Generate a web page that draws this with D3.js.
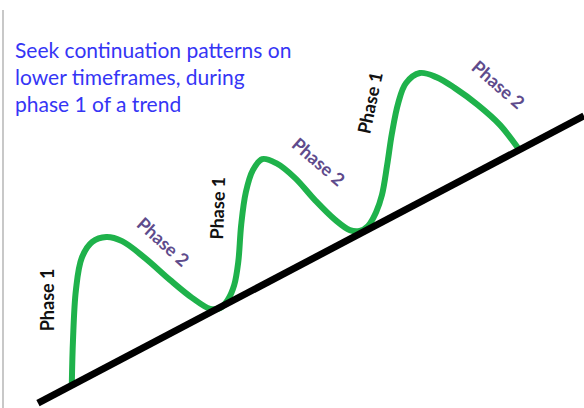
<!DOCTYPE html>
<html>
<head>
<meta charset="utf-8">
<script src="https://cdn.jsdelivr.net/npm/d3@7"></script>
<style>
  body { margin: 0; background: #fff; }
  svg { display: block; }
</style>
</head>
<body>
<div id="chart"></div>
<script>
// price path (time %, price %)
var pathTime  = [12.3, 12.5, 13.0, 14.0, 15.8, 18.2, 20.9, 24.8, 29.1, 32.9, 36.0,
                 37.7, 39.0, 40.1, 40.8, 41.3, 42.1, 43.3, 44.9, 47.3, 50.5, 53.9, 57.4, 59.9,
                 61.6, 63.0, 64.4, 65.4, 66.3, 67.1, 68.2, 69.5, 71.9, 74.7, 77.9, 81.8, 85.6, 88.7];
var pathPrice = [6.1, 16.7, 28.9, 36.8, 40.7, 41.9, 40.9, 36.8, 31.4, 27.0, 24.3,
                 24.5, 26.5, 30.1, 35.8, 44.9, 52.9, 58.3, 61.0, 60.0, 56.4, 51.0, 46.1, 43.6,
                 43.4, 44.6, 48.0, 52.2, 59.6, 67.2, 74.8, 79.6, 82.1, 81.1, 78.4, 74.3, 69.4, 63.7];

// trend line
var trendTime  = [6.5, 100];
var trendPrice = [1.2, 71.6];

var title = ["Seek continuation patterns on", "lower timeframes, during", "phase 1 of a trend"];

var phaseText  = ["Phase 1", "Phase 2", "Phase 1", "Phase 2", "Phase 1", "Phase 2"];
var phaseTime  = [8.2, 27.9, 37.3, 54.5, 63.4, 85.3];
var phasePrice = [26.5, 40.7, 49.0, 60.3, 74.8, 79.2];
var phaseAngle = [-90, 42, -88, 41, -78, 41];

var W = 584, H = 408;

var svg = d3.select("#chart").append("svg")
  .attr("width", W)
  .attr("height", H);

var x = d3.scaleLinear().domain([0, 100]).range([0, W]),
    y = d3.scaleLinear().domain([0, 100]).range([H, 0]);

// thin grey border at the left
svg.append("line")
  .attr("x1", 3).attr("x2", 3)
  .attr("y1", 10).attr("y2", H)
  .attr("stroke", "#c8c8c8")
  .attr("stroke-width", 2);

var line = d3.line()
  .curve(d3.curveCatmullRom.alpha(0.5))
  .x(function(d) { return x(d[0]); })
  .y(function(d) { return y(d[1]); });

svg.append("path")
  .datum(d3.zip(pathTime, pathPrice))
  .attr("d", line)
  .attr("fill", "none")
  .attr("stroke", "#1fb24b")
  .attr("stroke-width", 6)
  .attr("stroke-linecap", "round");

svg.append("path")
  .datum(d3.zip(trendTime, trendPrice))
  .attr("d", d3.line().x(function(d) { return x(d[0]); }).y(function(d) { return y(d[1]); }))
  .attr("stroke", "#000")
  .attr("stroke-width", 7);

svg.append("text")
  .attr("x", 15)
  .attr("y", 58)
  .attr("fill", "#3535f5")
  .style("font-family", "Lato, 'Open Sans', sans-serif")
  .style("font-size", "21px")
  .selectAll("tspan")
  .data(title)
  .enter().append("tspan")
  .attr("x", 15)
  .attr("dy", function(d, i) { return i ? 27 : 0; })
  .text(function(d) { return d; });

svg.selectAll(".phase")
  .data(phaseText)
  .enter().append("text")
  .attr("class", "phase")
  .attr("transform", function(d, i) {
    return "translate(" + x(phaseTime[i]) + "," + y(phasePrice[i]) + ") rotate(" + phaseAngle[i] + ")";
  })
  .attr("text-anchor", "middle")
  .attr("dy", "0.35em")
  .attr("fill", function(d) { return d === "Phase 2" ? "#5e4b8c" : "#111"; })
  .style("font-family", "Lato, 'Open Sans', sans-serif")
  .style("font-weight", "bold")
  .style("font-size", "18px")
  .text(function(d) { return d; });
</script>
</body>
</html>
